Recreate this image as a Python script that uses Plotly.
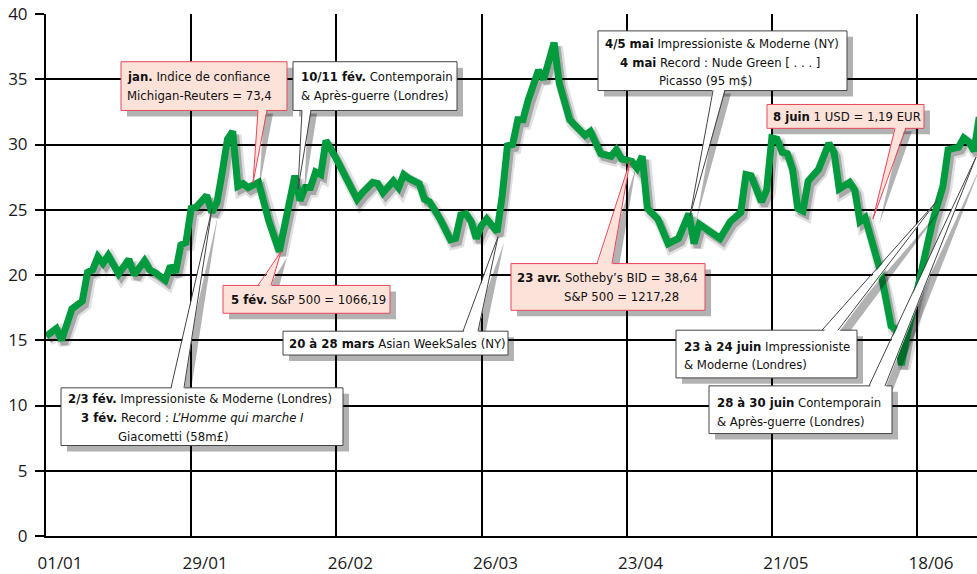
import pandas as pd
import plotly.graph_objects as go

# ---------------- data ----------------
dates = [
    "2010-01-01", "2010-01-03", "2010-01-04", "2010-01-06", "2010-01-08", "2010-01-09",
    "2010-01-10", "2010-01-11", "2010-01-12", "2010-01-13", "2010-01-15", "2010-01-16",
    "2010-01-17", "2010-01-18", "2010-01-20", "2010-01-21", "2010-01-22", "2010-01-24",
    "2010-01-25", "2010-01-26", "2010-01-27", "2010-01-28", "2010-01-29", "2010-01-30",
    "2010-02-01", "2010-02-02", "2010-02-03", "2010-02-04", "2010-02-05", "2010-02-06",
    "2010-02-07", "2010-02-08", "2010-02-09", "2010-02-11", "2010-02-13", "2010-02-15",
    "2010-02-16", "2010-02-18", "2010-02-19", "2010-02-20", "2010-02-21", "2010-02-22",
    "2010-02-23", "2010-02-24", "2010-02-26", "2010-02-28", "2010-03-02", "2010-03-03",
    "2010-03-05", "2010-03-06", "2010-03-07", "2010-03-09", "2010-03-10", "2010-03-11",
    "2010-03-12", "2010-03-14", "2010-03-15", "2010-03-16", "2010-03-18", "2010-03-20",
    "2010-03-21", "2010-03-22", "2010-03-23", "2010-03-24", "2010-03-25", "2010-03-26",
    "2010-03-27", "2010-03-29", "2010-03-30", "2010-03-31", "2010-04-01", "2010-04-02",
    "2010-04-03", "2010-04-04", "2010-04-06", "2010-04-07", "2010-04-09", "2010-04-10",
    "2010-04-11", "2010-04-12", "2010-04-13", "2010-04-15", "2010-04-16", "2010-04-18",
    "2010-04-20", "2010-04-21", "2010-04-22", "2010-04-24", "2010-04-25", "2010-04-26",
    "2010-04-27", "2010-04-29", "2010-05-01", "2010-05-03", "2010-05-05", "2010-05-06",
    "2010-05-07", "2010-05-09", "2010-05-11", "2010-05-13", "2010-05-15", "2010-05-16",
    "2010-05-17", "2010-05-19", "2010-05-20", "2010-05-21", "2010-05-22", "2010-05-23",
    "2010-05-24", "2010-05-25", "2010-05-26", "2010-05-27", "2010-05-28", "2010-05-30",
    "2010-06-01", "2010-06-02", "2010-06-03", "2010-06-05", "2010-06-06", "2010-06-07",
    "2010-06-08", "2010-06-09", "2010-06-11", "2010-06-12", "2010-06-13", "2010-06-14",
    "2010-06-15", "2010-06-16", "2010-06-18", "2010-06-20", "2010-06-21", "2010-06-23",
    "2010-06-24", "2010-06-26", "2010-06-27", "2010-06-28", "2010-06-29", "2010-06-30",
]
values = [
    15.3, 15.9, 15.0, 17.4, 18.0, 20.2,
    20.4, 21.4, 20.9, 21.5, 20.1, 20.7,
    21.2, 20.0, 21.1, 20.4, 20.2, 19.6,
    20.7, 20.2, 22.3, 22.5, 25.1, 25.2,
    26.1, 24.8, 25.6, 27.9, 30.4, 31.0,
    26.8, 27.0, 26.7, 27.1, 24.1, 21.8,
    23.8, 27.6, 25.7, 26.7, 26.7, 27.9,
    27.7, 30.3, 28.9, 27.4, 25.8, 26.3,
    27.1, 27.0, 26.3, 27.2, 26.7, 27.7,
    27.4, 27.0, 25.8, 25.6, 24.3, 22.7,
    22.8, 24.6, 24.7, 24.1, 22.8, 23.8,
    24.3, 23.3, 26.1, 29.9, 30.0, 31.9,
    31.9, 33.4, 35.7, 35.0, 37.8, 34.7,
    33.2, 31.9, 31.5, 30.7, 31.0, 29.3,
    29.1, 29.6, 28.9, 28.7, 28.2, 29.1,
    25.1, 24.3, 22.4, 22.8, 24.7, 22.4,
    23.9, 23.4, 22.8, 24.1, 24.8, 27.7,
    27.6, 25.6, 26.5, 30.5, 30.4, 29.4,
    29.3, 28.1, 25.1, 24.9, 27.2, 28.1,
    30.1, 29.4, 26.6, 27.1, 26.5, 24.1,
    24.4, 23.0, 20.2, 18.2, 16.1, 15.8,
    13.1, 15.2, 18.7, 21.8, 24.1, 26.8,
    29.6, 29.8, 30.5, 30.2, 29.5, 32.1,
]
y_ticks = [0, 5, 10, 15, 20, 25, 30, 35, 40]

# callouts: (style, lines[(x_px, y_px, html)], box(x0,y0,x1,y1), tail(base x0, base x1, base y, tip x, tip y))
callouts = [
    ("pink", [(126, 77, "<b>jan.</b> Indice de confiance"), (126, 96, "Michigan-Reuters = 73,4")],
     (121, 62, 287, 111), (258, 267, 111, 253, 184)),
    ("white", [(300, 77, "<b>10/11 fév.</b> Contemporain"), (300, 96, "&amp; Après-guerre (Londres)")],
     (293, 62, 457, 111), (302, 311, 111, 298, 190)),
    ("white", [(604, 44, "<b>4/5 mai</b> Impressioniste &amp; Moderne (NY)"),
               (619, 63, "<b>4 mai</b> Record : Nude Green [ . . . ]"),
               (658, 81, "Picasso (95 m$)")],
     (598, 31, 847, 91), (713, 725, 91, 690, 217)),
    ("pink", [(772, 117, "<b>8 juin</b> 1 USD = 1,19 EUR")],
     (767, 105, 924, 129), (895, 906, 129, 873, 220)),
    ("pink", [(230, 301, "<b>5 fév.</b> S&amp;P 500 = 1066,19")],
     (223, 287, 390, 315), (258, 271, 287, 281, 253)),
    ("white", [(288, 345, "<b>20 à 28 mars</b> Asian WeekSales (NY)")],
     (283, 333, 508, 357), (463, 478, 333, 498, 238)),
    ("pink", [(516, 279, "<b>23 avr.</b> Sotheby’s BID = 38,64"), (563, 298, "S&amp;P 500 = 1217,28")],
     (511, 265, 705, 312), (597, 612, 265, 630, 162)),
    ("white", [(67, 401, "<b>2/3 fév.</b> Impressioniste &amp; Moderne (Londres)"),
               (80, 420, "<b>3 fév.</b> Record : <i>L’Homme qui marche I</i>"),
               (117, 439, "Giacometti (58m£)")],
     (61, 390, 343, 448), (171, 184, 390, 212, 210)),
    ("white", [(683, 348, "<b>23 à 24 juin</b> Impressioniste"), (683, 367, "&amp; Moderne (Londres)")],
     (676, 332, 857, 380), (822, 838, 332, 937, 202)),
    ("white", [(716, 405, "<b>28 à 30 juin</b> Contemporain"), (716, 424, "&amp; Après-guerre (Londres)")],
     (709, 388, 892, 436), (869, 885, 388, 976, 158)),
]

# ---------------- geometry ----------------
W, H = 977, 574
ML, MR, MT, MB = 46, 0, 14, 35
PW, PH = W - ML - MR, H - MT - MB
PX_PER_DAY = (917 - 46) / 168.0
Y_MAX = 40.0
PX_PER_UNIT = PH / Y_MAX

x_start = pd.Timestamp("2010-01-01")
x_end = x_start + pd.Timedelta(days=PW / PX_PER_DAY)

SH_DX, SH_DY = 3, 4  # line shadow offset in px
sx = pd.Timedelta(days=SH_DX / PX_PER_DAY)
sy = SH_DY / PX_PER_UNIT

def fx(px):
    return (px - ML) / PW

def fy(py):
    return (H - MB - py) / PH

GREEN = "#009b3e"
FONT_T = "DejaVu Sans Condensed, sans-serif"
FONT_AX = "Open Sans, DejaVu Sans, sans-serif"
STYLES = {
    "pink": dict(fill="#fde2da", line="#e8465a"),
    "white": dict(fill="#ffffff", line="#444444"),
}
SHADOW = "rgba(0,0,0,0.30)"

fig = go.Figure()
# invisible carrier trace so the base axes (grid, ticks) are drawn
fig.add_trace(go.Scatter(x=dates, y=values, mode="lines", xaxis="x", yaxis="y",
                         line=dict(color="rgba(0,0,0,0)", width=0), hoverinfo="skip",
                         showlegend=False))
# shadow of the line (drawn through a shifted overlay axis)
fig.add_trace(go.Scatter(x=dates, y=values, mode="lines", xaxis="x2", yaxis="y2",
                         line=dict(color="rgba(0,0,0,0.12)", width=12), hoverinfo="skip",
                         showlegend=False))
fig.add_trace(go.Scatter(x=dates, y=values, mode="lines", xaxis="x2", yaxis="y2",
                         line=dict(color="rgba(0,0,0,0.25)", width=7), hoverinfo="skip",
                         showlegend=False))
fig.add_trace(go.Scatter(x=dates, y=values, mode="lines", xaxis="x3", yaxis="y3",
                         line=dict(color=GREEN, width=7), showlegend=False))

shapes = []
annotations = []
SO = 6  # box shadow offset
for style, lines, box, tail in callouts:
    st = STYLES[style]
    x0, y0, x1, y1 = box
    bx0, bx1, by, tx, ty = tail
    inward = 3 if by >= y1 - 1 else -3  # push base into the box
    shapes.append(dict(type="rect", xref="paper", yref="paper", layer="above",
                       x0=fx(x0 + SO), x1=fx(x1 + SO), y0=fy(y0 + SO), y1=fy(y1 + SO),
                       fillcolor=SHADOW, line=dict(width=0)))
    shapes.append(dict(type="path", xref="paper", yref="paper", layer="above",
                       path=f"M {fx(bx0+SO)},{fy(by+SO-inward)} L {fx(tx+SO)},{fy(ty+SO)} L {fx(bx1+SO)},{fy(by+SO-inward)} Z",
                       fillcolor=SHADOW, line=dict(width=0)))
    shapes.append(dict(type="rect", xref="paper", yref="paper", layer="above",
                       x0=fx(x0), x1=fx(x1), y0=fy(y0), y1=fy(y1),
                       fillcolor=st["fill"], line=dict(color=st["line"], width=1)))
    shapes.append(dict(type="path", xref="paper", yref="paper", layer="above",
                       path=f"M {fx(bx0)},{fy(by-inward)} L {fx(tx)},{fy(ty)} L {fx(bx1)},{fy(by-inward)} Z",
                       fillcolor=st["fill"], line=dict(width=0)))
    shapes.append(dict(type="path", xref="paper", yref="paper", layer="above",
                       path=f"M {fx(bx0)},{fy(by)} L {fx(tx)},{fy(ty)} L {fx(bx1)},{fy(by)}",
                       line=dict(color=st["line"], width=1)))
    for lx, ly, txt in lines:
        annotations.append(dict(xref="paper", yref="paper", x=fx(lx), y=fy(ly),
                                xanchor="left", yanchor="middle", showarrow=False,
                                text=txt, borderpad=0,
                                font=dict(family=FONT_T, size=13, color="#111111")))

axis_common = dict(showgrid=True, gridcolor="black", gridwidth=2, zeroline=False)
fig.update_layout(
    width=W, height=H,
    margin=dict(l=ML, r=MR, t=MT, b=MB, pad=0),
    paper_bgcolor="white", plot_bgcolor="white",
    showlegend=False,
    xaxis=dict(type="date", range=[x_start, x_end], tick0="2010-01-01",
               dtick=28 * 86400000, tickformat="%d/%m", ticks="",
               showline=True, linecolor="black", linewidth=2,
               ticklabelshift=14, ticklabelstandoff=11,
               tickfont=dict(family=FONT_AX, size=17, color="#1a1a1a"), **axis_common),
    yaxis=dict(range=[0, Y_MAX], tickvals=y_ticks, ticks="outside", ticklen=9,
               tickwidth=2, tickcolor="black", showline=True, linecolor="black", linewidth=2,
               ticklabelstandoff=4,
               tickfont=dict(family=FONT_AX, size=17, color="#1a1a1a"), **axis_common),
    xaxis2=dict(type="date", overlaying="x", range=[x_start - sx, x_end - sx], visible=False),
    yaxis2=dict(overlaying="y", range=[0 + sy, Y_MAX + sy], visible=False),
    xaxis3=dict(type="date", overlaying="x", range=[x_start, x_end], visible=False),
    yaxis3=dict(overlaying="y", range=[0, Y_MAX], visible=False),
    shapes=shapes,
    annotations=annotations,
)

fig.write_html("out.html", config={"displayModeBar": False},
               post_script="document.body.style.margin='0';")
